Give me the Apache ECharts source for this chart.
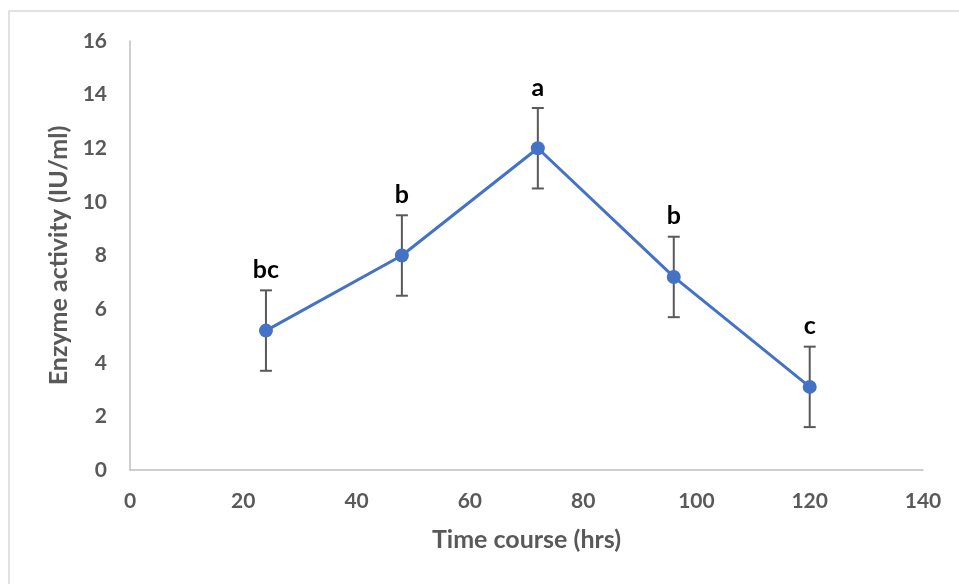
<!DOCTYPE html>
<html>
<head>
<meta charset="utf-8">
<script src="https://cdn.jsdelivr.net/npm/echarts@6/dist/echarts.min.js"></script>
<style>
  html, body { margin: 0; padding: 0; background: #ffffff; }
  #chart { width: 959px; height: 584px; }
</style>
</head>
<body>
<div id="chart"></div>
<script>
// Enzyme activity over the fermentation time course
const hours = [24, 48, 72, 96, 120];
const activity = [5.2, 8.0, 12.0, 7.2, 3.1];
const stdErr = [1.5, 1.5, 1.5, 1.5, 1.5];
const groups = ['bc', 'b', 'a', 'b', 'c'];
const xTicks = { min: 0, max: 140, interval: 20 };
const yTicks = { min: 0, max: 16, interval: 2 };

const FONT = 'Lato';
const GREY = '#595959';

const lineData = hours.map((h, i) => [h, activity[i]]);
const errData = hours.map((h, i) => [h, activity[i] - stdErr[i], activity[i] + stdErr[i], i]);

const chart = echarts.init(document.getElementById('chart'), null, { renderer: 'canvas' });

chart.setOption({
  animation: false,
  backgroundColor: '#ffffff',
  graphic: [{
    type: 'rect',
    shape: { x: 9, y: 11, width: 1200, height: 1200 },
    style: { fill: 'none', stroke: '#d9d9d9', lineWidth: 1.5 },
    silent: true,
    z: -10
  }],
  grid: { left: 130, right: 36, top: 41, bottom: 114, containLabel: false },
  xAxis: {
    type: 'value',
    min: xTicks.min, max: xTicks.max, interval: xTicks.interval,
    name: 'Time course (hrs)',
    nameLocation: 'middle',
    nameGap: 57,
    nameTextStyle: { fontFamily: FONT, fontWeight: 'bold', fontSize: 25, color: GREY },
    axisLine: { show: true, lineStyle: { color: '#bfbfbf', width: 1.5 } },
    axisTick: { show: false },
    splitLine: { show: false },
    axisLabel: { margin: 21, fontFamily: FONT, fontWeight: 'bold', fontSize: 21, color: GREY }
  },
  yAxis: {
    type: 'value',
    min: yTicks.min, max: yTicks.max, interval: yTicks.interval,
    name: 'Enzyme activity (IU/ml)',
    nameLocation: 'middle',
    nameGap: 57,
    nameRotate: 90,
    nameTextStyle: { fontFamily: FONT, fontWeight: 'bold', fontSize: 25, color: GREY },
    axisLine: { show: true, lineStyle: { color: '#bfbfbf', width: 1.5 } },
    axisTick: { show: false },
    splitLine: { show: false },
    axisLabel: { margin: 23, fontFamily: FONT, fontWeight: 'bold', fontSize: 21, color: GREY }
  },
  series: [
    {
      type: 'line',
      data: lineData,
      symbol: 'circle',
      symbolSize: 14,
      lineStyle: { color: '#4472c4', width: 3 },
      itemStyle: { color: '#4472c4' },
      z: 3
    },
    {
      type: 'custom',
      data: errData,
      z: 2,
      renderItem: function (params, api) {
        const x = api.value(0);
        const lo = api.coord([x, api.value(1)]);
        const hi = api.coord([x, api.value(2)]);
        const cap = 6;
        const style = { stroke: GREY, lineWidth: 2 };
        return {
          type: 'group',
          children: [
            { type: 'line', shape: { x1: hi[0], y1: hi[1], x2: lo[0], y2: lo[1] }, style: style },
            { type: 'line', shape: { x1: hi[0] - cap, y1: hi[1], x2: hi[0] + cap, y2: hi[1] }, style: style },
            { type: 'line', shape: { x1: lo[0] - cap, y1: lo[1], x2: lo[0] + cap, y2: lo[1] }, style: style },
            {
              type: 'text',
              z2: 10,
              style: {
                x: hi[0], y: hi[1] - 8,
                text: groups[api.value(3)],
                align: 'center', verticalAlign: 'bottom',
                fontFamily: FONT, fontWeight: 'bold', fontSize: 25, fill: '#000000'
              }
            }
          ]
        };
      }
    }
  ]
});
</script>
</body>
</html>
